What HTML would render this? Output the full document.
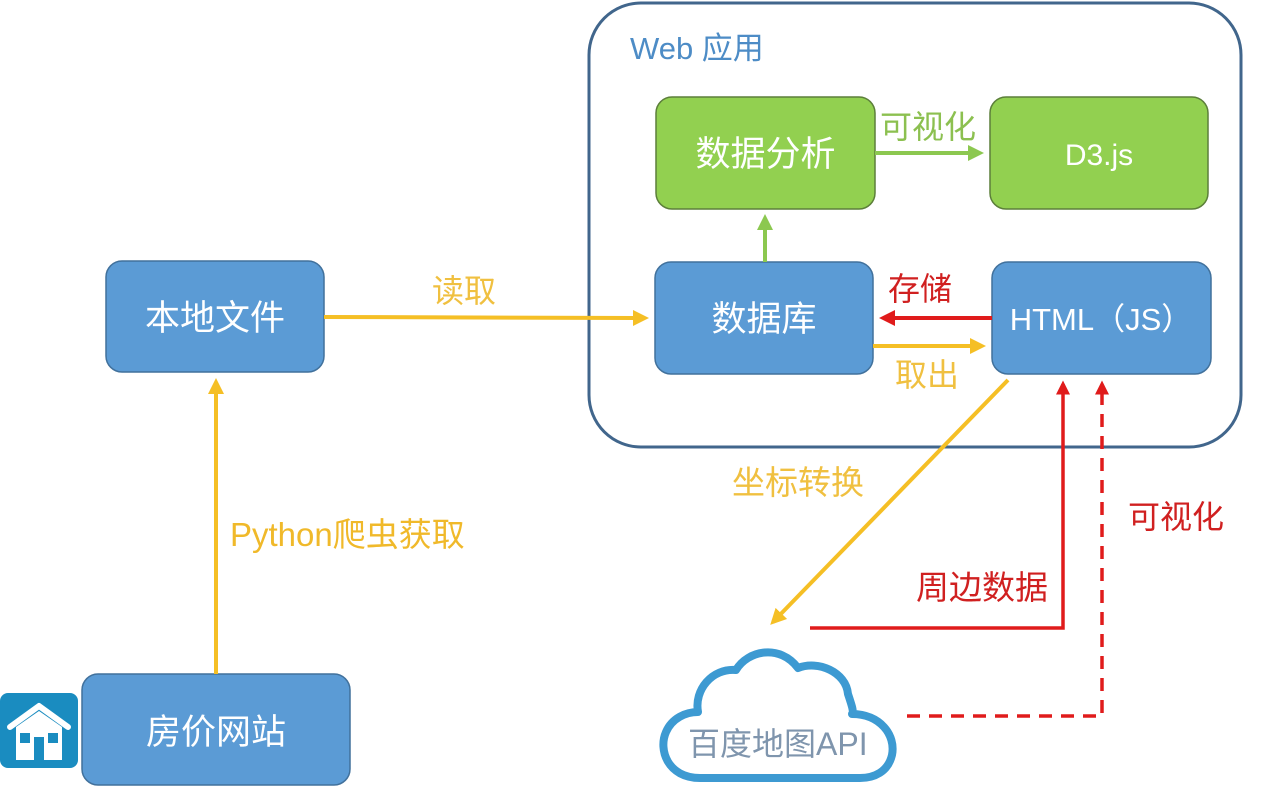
<!DOCTYPE html>
<html><head><meta charset="utf-8"><style>
html,body{margin:0;padding:0;background:#fff;}
svg{display:block;}
text{font-family:"Liberation Sans","Noto Sans CJK SC",sans-serif;}
</style></head><body>
<svg width="1280" height="802" viewBox="0 0 1280 802" xmlns="http://www.w3.org/2000/svg">
<defs>
<marker id="ay" markerWidth="4" markerHeight="4" refX="3" refY="2" orient="auto" markerUnits="strokeWidth"><path d="M0,0 L4,2 L0,4 z" fill="#f5bf25"/></marker>
<marker id="ar" markerWidth="4" markerHeight="4" refX="3" refY="2" orient="auto" markerUnits="strokeWidth"><path d="M0,0 L4,2 L0,4 z" fill="#e01b1b"/></marker>
<marker id="ag" markerWidth="4" markerHeight="4" refX="3" refY="2" orient="auto" markerUnits="strokeWidth"><path d="M0,0 L4,2 L0,4 z" fill="#8cc850"/></marker>
</defs>
<rect x="589" y="3" width="652" height="444" rx="52" fill="#fff" stroke="#41668c" stroke-width="3"/>
<text x="630" y="59" font-size="31" fill="#4d8cc6">Web 应用</text>

<rect x="656" y="97" width="219" height="112" rx="16" fill="#92d050" stroke="#5c7f3a" stroke-width="1.5"/>
<text x="765.5" y="166" font-size="35" fill="#fff" text-anchor="middle">数据分析</text>
<rect x="990" y="97" width="218" height="112" rx="16" fill="#92d050" stroke="#5c7f3a" stroke-width="1.5"/>
<text x="1099" y="165" font-size="30" fill="#fff" text-anchor="middle">D3.js</text>

<rect x="655" y="262" width="218" height="112" rx="16" fill="#5b9bd5" stroke="#41719c" stroke-width="1.5"/>
<text x="764" y="331" font-size="35" fill="#fff" text-anchor="middle">数据库</text>
<rect x="992" y="262" width="219" height="112" rx="16" fill="#5b9bd5" stroke="#41719c" stroke-width="1.5"/>
<text x="1101" y="330" font-size="31" fill="#fff" text-anchor="middle">HTML（JS）</text>
<rect x="106" y="261" width="218" height="111" rx="16" fill="#5b9bd5" stroke="#41719c" stroke-width="1.5"/>
<text x="215" y="330" font-size="35" fill="#fff" text-anchor="middle">本地文件</text>
<rect x="82" y="674" width="268" height="111" rx="16" fill="#5b9bd5" stroke="#41719c" stroke-width="1.5"/>
<text x="216" y="744" font-size="35" fill="#fff" text-anchor="middle">房价网站</text>

<rect x="0" y="693" width="78" height="75" rx="8" fill="#1a8cc0"/>
<path d="M10,727 L39,706 L68,727" fill="none" stroke="#fff" stroke-width="6" stroke-linejoin="round" stroke-linecap="round"/>
<path d="M16,727 L39,711 L62,727 L62,760 L16,760 z" fill="#fff"/>
<rect x="20" y="733" width="10" height="10" fill="#1a8cc0"/>
<rect x="48" y="733" width="10" height="10" fill="#1a8cc0"/>
<rect x="34" y="737" width="10" height="23" fill="#1a8cc0"/>

<line x1="216" y1="674" x2="216" y2="382" stroke="#f5bf25" stroke-width="4" marker-end="url(#ay)"/>
<text x="230" y="546" font-size="33" fill="#f0b92a">Python爬虫获取</text>
<line x1="324" y1="317" x2="645" y2="318" stroke="#f5bf25" stroke-width="4" marker-end="url(#ay)"/>
<text x="432" y="302" font-size="32" fill="#f0c040">读取</text>
<line x1="765" y1="262" x2="765" y2="218" stroke="#8cc850" stroke-width="4" marker-end="url(#ag)"/>
<line x1="875" y1="153" x2="980" y2="153" stroke="#8cc850" stroke-width="4" marker-end="url(#ag)"/>
<text x="880" y="138" font-size="32" fill="#8cc050">可视化</text>
<line x1="992" y1="318" x2="883" y2="318" stroke="#e01b1b" stroke-width="4" marker-end="url(#ar)"/>
<text x="888" y="300" font-size="32" fill="#d02020">存储</text>
<line x1="873" y1="346" x2="982" y2="346" stroke="#f5bf25" stroke-width="4" marker-end="url(#ay)"/>
<text x="895" y="386" font-size="32" fill="#f0c040">取出</text>
<line x1="1008" y1="380" x2="773" y2="622" stroke="#f5bf25" stroke-width="4" marker-end="url(#ay)"/>
<text x="732" y="494" font-size="33" fill="#f0c040">坐标转换</text>
<polyline points="810,628 1063,628 1063,384" fill="none" stroke="#e01b1b" stroke-width="3.5" marker-end="url(#ar)"/>
<text x="916" y="599" font-size="33" fill="#d02020">周边数据</text>
<polyline points="907,716 1102,716 1102,384" fill="none" stroke="#e01b1b" stroke-width="3.5" stroke-dasharray="13,9" marker-end="url(#ar)"/>
<text x="1128" y="528" font-size="32" fill="#d02020">可视化</text>

<path d="M700,778 C668,778 658,750 666,732 C672,718 686,712 698,712 C694,690 712,668 736,670 C748,650 780,644 798,668 C818,660 846,672 848,694 C852,706 854,712 852,714 C880,714 896,735 892,755 C888,772 874,778 860,778 Z" fill="#fff" stroke="#3d9ad2" stroke-width="8" stroke-linejoin="round"/>
<text x="688" y="755" font-size="32" fill="#7f95ad">百度地图API</text>
</svg>
</body></html>
